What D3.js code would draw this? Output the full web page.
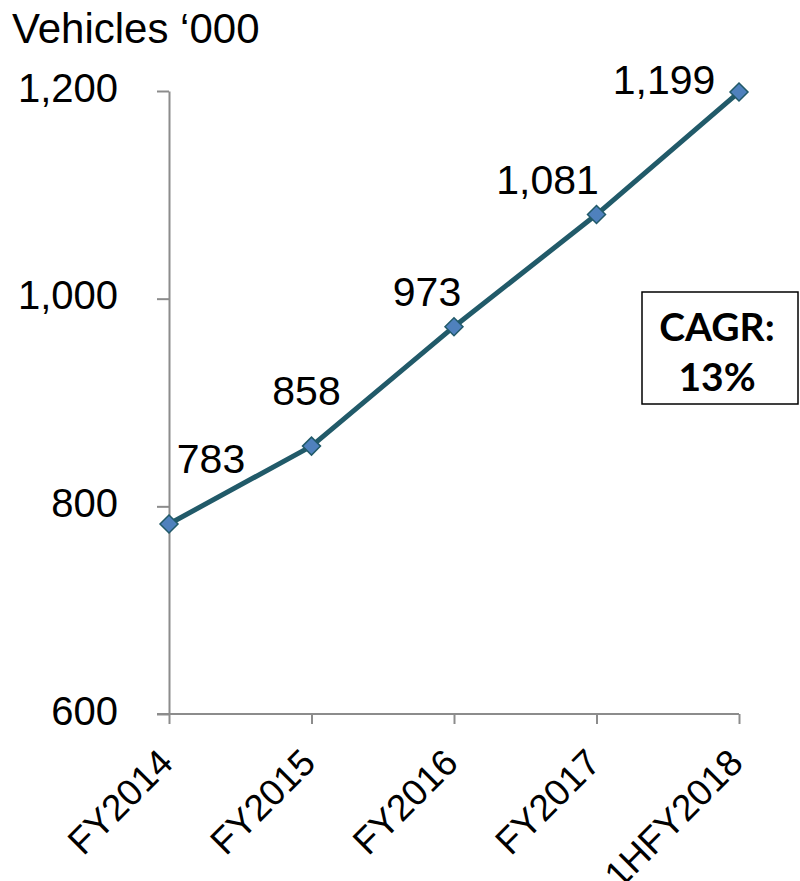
<!DOCTYPE html>
<html>
<head>
<meta charset="utf-8">
<script src="https://cdn.jsdelivr.net/npm/d3@7"></script>
<style>
  body { margin: 0; background: #fff; }
  svg { display: block; }
  text { font-family: "Liberation Sans", Arial, sans-serif; fill: #000; }
</style>
</head>
<body>
<div id="chart"></div>
<script>
// data
const categories = ['FY2014', 'FY2015', 'FY2016', 'FY2017', '1HFY2018'];
const vehicles = [783, 858, 973, 1081, 1199];
const yTicks = [600, 800, 1000, 1200];
const unitLabel = 'Vehicles \u2018000';
const cagrLines = ['CAGR:', '13%'];

const width = 800, height = 881;
const axisColor = '#8c8c8c';
const lineColor = '#215a69';
const markerFill = '#4f81bd';

const svg = d3.select('#chart').append('svg')
  .attr('width', width)
  .attr('height', height);

const x = d3.scalePoint().domain(categories).range([169, 739]);
const y = d3.scaleLinear().domain([600, 1200]).range([714, 91]);

// unit label
svg.append('text')
  .attr('x', 12)
  .attr('y', 43)
  .style('font-size', '42px')
  .text(unitLabel);

// y axis
const yAxis = svg.append('g')
  .attr('transform', 'translate(169,0)')
  .call(d3.axisLeft(y).tickValues(yTicks).tickSize(12).tickSizeOuter(0)
    .tickPadding(39).tickFormat(d3.format(',')));
yAxis.select('.domain').attr('stroke', axisColor).attr('stroke-width', 2);
yAxis.selectAll('.tick line').attr('stroke', axisColor).attr('stroke-width', 2);
yAxis.selectAll('.tick text')
  .attr('dy', '10px')
  .style('font-size', '40px')
  .style('font-family', '"Liberation Sans", Arial, sans-serif')
  .attr('fill', '#000');

// x axis
const xAxis = svg.append('g')
  .attr('transform', 'translate(0,' + y(600) + ')')
  .call(d3.axisBottom(x).tickSize(10).tickSizeOuter(0).tickFormat(''));
xAxis.select('.domain').remove();
xAxis.selectAll('.tick line').attr('stroke', axisColor).attr('stroke-width', 2);
svg.append('line')
  .attr('x1', 157).attr('x2', x(categories[categories.length - 1]))
  .attr('y1', y(600)).attr('y2', y(600))
  .attr('stroke', axisColor).attr('stroke-width', 2);

// rotated category labels
svg.append('g').selectAll('text')
  .data(categories)
  .join('text')
  .attr('transform', d => 'translate(' + (x(d) + 6) + ',' + (y(600) + 51) + ') rotate(-45)')
  .attr('text-anchor', 'end')
  .style('font-size', '37px')
  .text(d => d);

// line
const line = d3.line()
  .x((d, i) => x(categories[i]))
  .y(d => y(d));

svg.append('path')
  .datum(vehicles)
  .attr('fill', 'none')
  .attr('stroke', lineColor)
  .attr('stroke-width', 5)
  .attr('stroke-linejoin', 'round')
  .attr('d', line);

// diamond markers
svg.append('g').selectAll('path')
  .data(vehicles)
  .join('path')
  .attr('transform', (d, i) => 'translate(' + x(categories[i]) + ',' + y(d) + ')')
  .attr('d', 'M0,-9L9,0L0,9L-9,0Z')
  .attr('fill', markerFill)
  .attr('stroke', lineColor)
  .attr('stroke-width', 1.5);

// value labels, nudged like the original
const labelNudge = [[42, -51], [-5, -41], [-27, -21], [-49, -21], [-75, 2]];
svg.append('g').selectAll('text')
  .data(vehicles)
  .join('text')
  .attr('x', (d, i) => x(categories[i]) + labelNudge[i][0])
  .attr('y', (d, i) => y(d) + labelNudge[i][1])
  .attr('text-anchor', 'middle')
  .style('font-size', '41px')
  .text(d => d3.format(',')(d));

// CAGR box
const box = svg.append('g');
box.append('rect')
  .attr('x', 642).attr('y', 292)
  .attr('width', 156).attr('height', 112)
  .attr('fill', '#fff')
  .attr('stroke', '#000')
  .attr('stroke-width', 1.5);
box.selectAll('text')
  .data(cagrLines)
  .join('text')
  .attr('x', 717)
  .attr('y', (d, i) => 341 + i * 50)
  .attr('text-anchor', 'middle')
  .style('font-family', 'Lato, "Open Sans", sans-serif')
  .style('font-weight', 'bold')
  .style('font-size', '39px')
  .text(d => d);
</script>
</body>
</html>
